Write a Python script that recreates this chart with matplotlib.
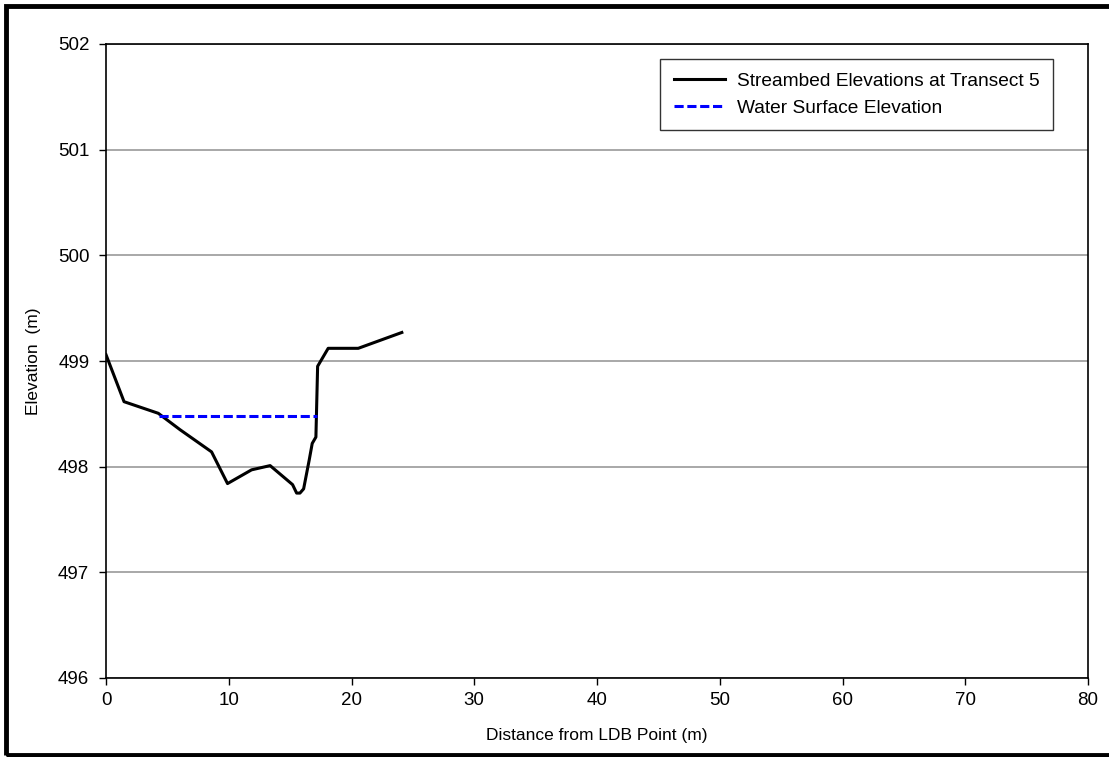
import matplotlib
matplotlib.use("Agg")
import matplotlib.pyplot as plt
from matplotlib.patches import Rectangle

plt.rcParams['font.family'] = ['Liberation Sans', 'DejaVu Sans']

distance = [0.0, 1.47, 4.26, 6.03, 8.6, 9.9, 11.86, 13.37, 15.2, 15.53, 15.8, 16.1,
            16.55, 16.8, 17.1, 17.24, 18.1, 20.55, 24.1]
elevation = [499.06, 498.615, 498.505, 498.35, 498.14, 497.84, 497.97, 498.01, 497.83,
             497.75, 497.75, 497.79, 498.06, 498.22, 498.28, 498.95, 499.12, 499.12, 499.27]
ws_distance = [4.3, 17.2]
ws_elevation = [498.48, 498.48]

xticks = [0, 10, 20, 30, 40, 50, 60, 70, 80]
yticks = [496, 497, 498, 499, 500, 501, 502]

W, H = 1109, 757
fig = plt.figure(figsize=(W / 100, H / 100), dpi=100)
ax = fig.add_axes([106 / W, 1 - 678 / H, (1088 - 106) / W, (678 - 44) / H])

ax.plot(distance, elevation, color='black', lw=2.2, label='Streambed Elevations at Transect 5', zorder=3)
ax.plot(ws_distance, ws_elevation, color='#0000ff', lw=2.2, ls=(0, (3, 1.2)), label='Water Surface Elevation', zorder=3)

ax.set_xlim(0, 80)
ax.set_ylim(496, 502)
ax.set_xticks(xticks)
ax.set_yticks(yticks)
ax.yaxis.grid(True, color='#999999', lw=1.2)
ax.set_axisbelow(True)
ax.tick_params(direction='out', length=5, width=1, labelsize=13.5)
ax.tick_params(axis='y', pad=7)
ax.tick_params(axis='x', pad=5)
for s in ax.spines.values():
    s.set_linewidth(1.2)
    s.set_color('black')

ax.set_xlabel('Distance from LDB Point (m)', fontsize=12.5, labelpad=14)
ax.set_ylabel('Elevation  (m)', fontsize=12.5, labelpad=12)

leg = ax.legend(loc='upper right', bbox_to_anchor=(1053 / W, 1 - 59 / H), bbox_transform=fig.transFigure,
                borderaxespad=0,
                frameon=True, fancybox=False, edgecolor='black', fontsize=13.8,
                handlelength=2.7, handletextpad=0.6, borderpad=0.7, labelspacing=0.5)
leg.get_frame().set_linewidth(1.0)

# figure border
fig.patches.append(Rectangle((6 / W, 2 / H), 1.2, 1 - 8 / H, transform=fig.transFigure,
                             fill=False, edgecolor='black', lw=3.5, zorder=10))

fig.savefig('out.png', dpi=100)
